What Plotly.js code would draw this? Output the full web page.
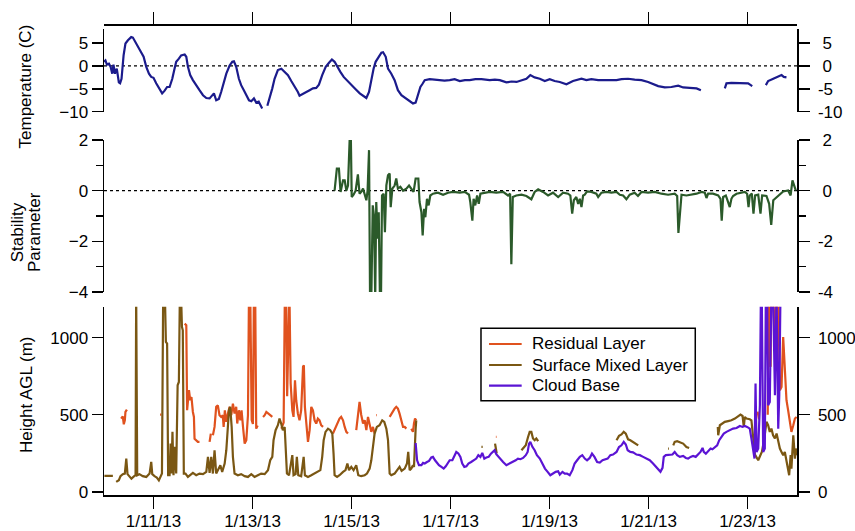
<!DOCTYPE html>
<html>
<head>
<meta charset="utf-8">
<script src="https://cdn.plot.ly/plotly-3.0.1.min.js"></script>
<style>
  html, body { margin: 0; padding: 0; background: #fff; }
  #chart { width: 855px; height: 531px; }
</style>
</head>
<body>
<div id="chart"></div>
<script>
// Time axis: hours elapsed since 2013-01-10 00:00
const startDate = Date.UTC(2013, 0, 10);

// Air temperature (C)
const tempHours = [0, 0.7, 1.4, 2.4, 3.2, 4.0, 4.6, 5.3, 6.2, 7.2, 7.8, 8.5, 9.5, 10.4, 11.6, 13.2, 14.0, 15.3, 16.4, 18.0,
  19.2, 20.5, 21.8, 22.9, 24.0, 25.3, 26.9, 28.2, 29.4, 30.6, 31.8, 33.1, 34.2, 35.0, 36.3, 37.4, 39.1, 39.9, 40.7, 41.8,
  43.1, 44.7, 46.3, 48.0, 49.6, 51.2, 52.5, 53.3, 54.4, 55.7, 56.8, 58.0, 59.3, 60.9, 62.2, 63.0, 64.1, 65.4, 66.5, 67.8,
  69.0, 70.3, 71.4, 72.7, 73.8, 75.0, 75.9, 76.7, 78.0, 79.2, 80.3, 81.6, 82.7, 84.3, 86.0, 87.6, 89.2, 90.8, 92.4, 94.0,
  94.8, 96.5, 98.1, 99.7, 101.3, 102.9, 104.2, 105.8, 107.5, 109.1, 110.5, 111.8, 113.0, 114.6, 116.2, 118.3, 119.9, 122.0,
  124.0, 125.9, 127.2, 128.5, 129.6, 130.7, 131.7, 132.8, 134.5, 135.3, 136.6, 137.7, 139.3, 140.9, 142.5, 144.2, 146.3,
  148.2, 149.8, 151.1, 152.2, 153.4, 154.3, 155.5, 157.9, 160.2, 162.7, 165.1, 167.6, 170.0, 172.5, 175.0, 177.3, 180.1,
  183.0, 187.0, 189.5, 191.9, 195.1, 197.6, 200.0, 203.2, 204.8, 206.7, 208.8, 211.3, 213.7, 216.1, 218.5, 221.0, 224.2,
  227.4, 231.5, 233.9, 236.3, 239.6, 243.6, 246.0, 248.5, 250.9, 254.1, 257.3, 260.6, 263.8, 266.2, 268.7, 271.9, 275.1,
  278.4, 280.8, 284.0, 287.3, 289.4, 295.0, 301.0, 301.8, 304.2, 308.3, 312.3, 314.3, 317.0, 320.9, 322.0, 324.5, 326.9,
  328.5, 329.6, 330.9];
const tempC = [0.9, 1.2, 0.3, 0.5, -0.2, -1.7, 0.3, -1.7, -0.6, -3.6, -3.8, -2.8, 2.3, 4.9, 5.6, 6.3, 6.2, 5.2, 4.1, 3.0,
  2.0, -0.2, -1.7, -2.4, -2.6, -3.8, -4.9, -6.0, -5.4, -4.6, -4.6, -2.8, -0.6, 0.9, 1.6, 2.3, 2.5, 2.0, -0.2, -2.0,
  -3.1, -4.3, -5.3, -6.4, -7.0, -7.1, -6.5, -6.0, -7.5, -7.2, -5.7, -3.5, -1.7, 0.1, 0.9, 1.0, -0.2, -2.8, -4.2, -5.3,
  -6.5, -7.5, -7.7, -7.1, -8.0, -7.8, -8.6, -9.3, null, -8.7, -7.1, -4.9, -2.8, -0.9, -0.6, -1.2, -2.0, -3.3, -4.4, -5.7,
  -6.5, -6.0, -5.7, -5.3, -4.9, -4.8, -4.1, -2.0, -0.2, 0.7, 1.4, 0.9, -0.2, -1.3, -2.4, -3.3, -4.2, -5.1,
  -6.0, -6.7, -7.0, -5.7, -2.8, -0.6, 0.9, 1.6, 2.9, 3.0, 2.0, -0.6, -1.7, -3.1, -5.3, -6.4, -7.1,
  -7.8, -8.2, -8.0, -6.5, -4.6, -4.0, -3.1, -2.9, -3.0, -3.1, -3.2, -3.1, -2.9, -3.3, -3.1, -3.1, -2.9,
  -2.9, -3.1, -3.0, -3.1, -3.6, -3.4, -3.5, -3.1, -2.8, -2.0, -2.5, -2.8, -3.3, -2.9, -3.3, -3.5, -4.0,
  -3.3, -2.8, -3.1, -2.9, -3.1, -3.1, -3.0, -3.1, -2.9, -2.8, -3.0, -3.1, -3.5, -4.0, -4.4, -4.7, -4.6,
  -4.3, -4.7, -4.8, -4.9, -5.3, null, -4.9, -3.8, -3.7, -3.8, -3.8, -4.4, null, -4.2, -3.3, -2.8, -2.4,
  -2.0, -2.4, -2.5];

// Stability parameter
const stabHours = [111.8, 112.9, 113.9, 114.7, 115.9, 116.7, 117.5, 118.3, 119.1, 119.7, 120.1, 121.0, 122.0, 123.1, 123.9,
  124.7, 125.6, 126.4, 127.2, 127.8, 128.5, 129.0, 129.6, 130.3, 130.9, 131.5, 132.0, 132.7, 133.2, 133.8, 134.3, 134.8,
  135.6, 136.2, 136.9, 137.7, 138.5, 139.0, 139.8, 140.9, 141.7, 142.5, 143.7, 145.0, 146.6, 147.9, 149.0, 150.1, 151.1,
  152.4, 153.0, 153.9, 154.5, 155.2, 155.8, 156.6, 157.4, 158.2, 159.5, 161.9, 164.4, 166.8, 169.2, 172.5, 174.9, 177.0,
  177.6, 178.6, 179.2, 180.0, 180.9, 181.7, 182.5, 184.6, 187.0, 190.2, 193.5, 195.9, 196.9, 197.5, 198.2, 199.9, 202.4,
  204.8, 207.2, 208.8, 210.5, 212.9, 215.3, 217.7, 220.2, 222.6, 225.0, 226.1, 227.0, 227.8, 229.0, 229.9, 230.7, 231.5,
  232.3, 233.1, 234.2, 236.3, 238.7, 239.6, 241.2, 243.6, 246.0, 248.5, 250.1, 251.7, 253.3, 254.9, 257.3, 258.9, 260.6,
  263.8, 267.0, 270.3, 273.5, 276.7, 277.9, 278.5, 279.2, 280.0, 282.4, 284.8, 287.3, 289.7, 291.3, 292.1, 292.9, 295.3,
  297.8, 298.9, 299.5, 300.2, 301.5, 302.6, 303.4, 304.2, 305.0, 306.7, 308.3, 310.7, 311.8, 312.5, 313.1, 314.1, 314.9,
  315.7, 317.2, 318.3, 319.1, 321.2, 322.5, 323.5, 324.5, 326.1, 327.7, 329.3, 331.7, 332.9, 333.8, 334.5, 335.4];
const stabValues = [0, 0.87, 0.87, -0.05, 0.41, 0.41, 0, 0.2, 2.0, 2.0, -0.25, -0.16, 0, 0.64, -0.12,
  -0.05, 0.08, -0.12, -0.38, 0, 1.6, -4.3, -4.3, -0.58, -0.98, -4.3, -0.45, -1.9, -0.85, -4.3, -4.3, -0.19,
  -0.12, -1.64, 0.21, 0.61, 0.68, -0.65, 0.08, 0.2, 0.48, 0.08, 0.15, 0, 0.08, 0.2, 0.08, -0.05, 0.48,
  0.48, -0.45, -0.85, -1.77, -0.72, -1.05, -0.32, -0.58, -0.19, -0.12, -0.08, -0.16, -0.08, -0.05, -0.08, -0.05, -0.16,
  -0.45, -1.18, -0.32, -0.58, -0.19, -0.52, -0.12, -0.08, -0.05, -0.08, -0.05, -0.19, -0.12, -2.9, -0.25, -0.19, -0.16,
  -0.21, -0.34, -0.05, 0.05, -0.05, -0.19, -0.08, -0.25, -0.08, -0.12, -0.19, -0.91, -0.38, -0.25, -0.52, -0.32, -0.65,
  -0.19, -0.16, -0.03, -0.05, -0.12, -0.25, -0.08, -0.05, -0.08, -0.05, -0.16, -0.19, -0.34, -0.16, -0.08, -0.21, -0.05,
  -0.08, -0.05, -0.12, -0.16, -0.12, -0.21, -1.67, -0.85, -0.16, -0.19, -0.16, -0.12, -0.05, -0.08, -0.29, -0.12, -0.12,
  -0.19, -0.32, -1.18, -0.25, -0.19, -0.45, -0.65, -0.32, -0.21, -0.12, -0.08, -0.05, -0.12, -0.65, -0.19, -0.12, -0.91,
  -0.19, -0.16, -0.91, -0.19, -0.21, -0.52, -1.35, -0.38, -0.25, -0.16, -0.03, 0.01, -0.19, 0.41, 0.21, 0.01];

// Residual layer height AGL (m)
const rlHours = [8.3, 9.1, 9.6, 10.1, 10.4, 11.1, 12.0, 27.2, 27.8, 30.0,
  39.1, 39.9, 40.3, 41.2, 41.8, 42.4, 43.1, 43.6, 43.9, 44.7, 45.5, 46.3, 48.0, 51.2, 51.8, 52.3,
  52.8, 53.6, 54.4, 55.2, 56.0, 56.8, 57.6, 58.0, 58.6, 59.3, 60.1, 60.9, 61.7, 62.5, 63.3, 64.1, 64.6, 65.4, 66.1,
  66.7, 67.4, 68.2, 69.0, 69.8, 70.3, 70.9, 71.6, 72.2, 72.7, 73.3, 73.8, 74.5, 76.0,
  77.1, 77.9, 78.7, 79.5, 80.6, 81.6, 83.0,
  86.0, 87.1, 87.7, 88.3, 88.8, 89.3, 89.9, 90.5, 91.3, 91.9, 92.6, 93.2, 94.0, 94.8, 95.6, 96.5, 96.9, 97.4, 98.1,
  98.9, 99.7, 100.5, 101.3, 102.1, 102.9, 103.7, 104.5, 105.3, 106.2, 108.0,
  111.0, 111.8, 112.6, 113.4, 114.2, 115.0, 115.9, 116.7, 117.5, 118.3, 120.0,
  122.3, 123.1, 123.9, 124.7, 125.6, 126.4, 127.2, 128.0, 128.8, 129.6, 130.4, 131.2, 131.6, 132.0, 132.3, 135.0,
  138.5, 139.3, 140.1, 140.9, 141.7, 142.5, 143.3, 144.1, 145.0, 145.8, 146.6, 147.8,
  149.0, 149.8, 150.3, 150.8, 151.4, 160.0, 190.0, 190.3, 200.0, 316.9, 317.6, 319.0,
  321.8, 322.5, 323.2, 323.6, 324.5, 325.3, 326.1, 326.9, 327.7, 328.5, 329.3, 330.1, 330.9, 331.7, 332.5, 333.3,
  334.2, 335.0, 335.8];
const rlHeights = [475, 490, 438, 464, 518, 533, null, 501, 501, null,
  1090, 1080, 529, 659, 594, 615, 518, 486, 345, 335, 324, 324, null, 324, 378, null,
  367, 421, 551, 561, 497, 486, 497, 421, 529, 454, 508, 551, 497, 572, 508, 551, 443, 529, 464,
  529, 421, 313, 335, 497, 1300, 1300, 465, 440, 1300, 1300, 410, 430, null,
  486, 497, 518, 507, 497, 486, null,
  410, 450, 1300, 1300, 620, 1300, 1300, 702, 529, 486, 723, 594, 507, 464, 529, 810, 820, 551, 421,
  324, 400, 551, 529, 464, 443, 475, 464, 432, 421, null,
  378, 400, 421, 454, 475, 486, 464, 421, 389, 378, null,
  400, 475, 583, 500, 443, 464, 400, 486, 443, 389, 421, 378, null, 497, 497, null,
  486, 507, 518, 540, 551, 540, 507, 464, 421, 421, 410, null,
  410, 389, 443, 475, 464, null, 356, 356, null, 520, 470, null,
  500, 1300, 810, 1300, 1300, 918, 1300, 1300, 659, 680, 1004, 745, 594, 529, 464, 389,
  432, 475, 486];

// Surface mixed layer height AGL (m)
const smlHours = [0.2, 4.3, 5.0, 5.9, 7.2, 8.0, 9.1, 10.1, 10.8, 11.4, 12.4, 13.3, 14.5, 15.3, 15.6, 16.1, 17.2, 18.8,
  20.5, 22.1, 22.9, 23.4, 24.5, 25.6, 26.6, 27.4, 28.1, 28.7, 29.5, 30.0, 30.6, 31.1, 31.8, 32.3, 32.7, 33.2, 33.7,
  34.4, 35.0, 35.7, 36.3, 36.8, 37.3, 37.8, 38.2, 38.7, 39.5, 40.7, 43.1, 44.7, 46.3, 48.0, 49.6, 50.4, 51.2, 52.0,
  52.8, 53.6, 54.4, 55.2, 56.4, 57.3, 58.5, 59.3, 60.1, 60.6, 61.2, 61.9, 62.5, 63.3, 64.9, 66.5, 68.2, 69.8, 71.4,
  73.0, 74.6, 76.2, 77.9, 79.5, 80.6, 81.6, 82.2, 83.2, 84.3, 85.1, 85.9, 86.7, 87.6, 88.0, 88.7, 89.7, 91.3, 91.9,
  92.9, 93.5, 94.2, 95.6, 96.8, 97.4, 98.9, 100.5, 102.1, 103.7, 104.9, 105.8, 106.5, 107.4, 108.6, 109.7, 110.7,
  111.3, 111.8, 113.0, 114.2, 115.9, 117.1, 118.0, 118.8, 119.9, 121.0, 122.3, 123.3, 124.7, 126.4, 127.5, 128.8,
  129.6, 130.4, 131.2, 132.3, 133.6, 134.9, 135.9, 136.9, 137.7, 138.5, 139.3, 140.9, 142.1, 143.3, 144.3, 145.8,
  146.9, 147.5, 148.2, 149.0, 149.8, 150.3, 151.1, 151.4, 151.7,
  183.0, 183.6, 184.0, 189.6, 190.4, 191.0,
  202.4, 203.5, 204.5, 205.6, 206.4, 207.2, 208.0, 208.8, 209.6, 210.5, 211.0,
  248.5, 249.7, 250.9, 252.0, 253.0, 254.1, 255.2, 256.5, 257.8, 259.0, 260.0,
  273.5, 273.9, 274.5, 276.0, 276.7, 277.9, 279.2, 280.8, 282.4, 283.7, 285.0,
  297.6, 297.8, 298.6, 299.9, 301.0, 302.6, 304.2, 305.9, 307.5, 308.6, 309.6, 310.2, 310.7, 311.5, 313.1, 313.9,
  315.6, 316.7, 317.2, 319.0, 320.2, 321.2, 322.0, 322.8, 323.6, 324.4, 325.3, 326.1, 326.9, 327.7, 328.5, 329.3,
  330.1, 330.9, 331.7, 332.2, 332.9, 333.3, 334.2, 335.0, 335.4, 336.0];
const smlHeights = [104, 104, null, 65, 76, 102, 115, 119, 216, 115, 97, 86, 100, 108, 1300, 108, 115, 102,
  97, 119, 195, 115, 102, 93, 75, 97, 119, 1300, 1300, 972, 961, 108, 108, 313, 119, 389, 108,
  292, 119, 691, 712, 1300, 1300, 1069, 1047, 119, 119, 97, 123, 108, 119, 115, 130, 227, 123, 227,
  119, 270, 119, 141, 173, 130, 184, 270, 421, 529, 551, 421, 227, 119, 108, 115, 102, 97, 115,
  97, 108, 119, 115, 141, 205, 227, 335, 400, 432, 475, 443, 400, 421, 270, 119, 108, 238, 108,
  115, 227, 108, 102, 227, 108, 97, 108, 119, 130, 141, 227, 335, 389, 410, 400, 378,
  248, 108, 97, 108, 130, 141, 184, 141, 162, 141, 173, 108, 102, 108, 119, 151,
  205, 313, 378, 421, 432, 464, 454, 410, 335, 119, 108, 119, 141, 162, 136, 151,
  184, 259, 141, 151, 173, 162, 410, 464, null,
  292, 292, null, 313, 250, null,
  270, 291, 302, 356, 389, 389, 346, 335, 346, 329, null,
  335, 363, 372, 389, 378, 341, 335, 324, 313, 302, null,
  281, 281, null, 302, 324, 329, 324, 313, 291, 285, null,
  421, 367, 432, 443, 454, 459, 464, 475, 492, 501, 492, 421, 486, 475, 471, 464,
  242, 216, 205, 260, 350, 454, 432, 389, 410, 367, 346, 378, 324, 281, 259, 238,
  259, 194, 151, 108, 238, 151, 367, 216, 281, 238];

// Cloud base height AGL (m)
const cbHours = [151.1, 151.8, 152.7, 153.9, 154.7, 155.5, 156.6, 157.6, 158.7, 159.5, 160.5, 161.5, 162.4, 163.6, 164.7,
  165.7, 166.6, 167.6, 168.9, 170.0, 170.8, 171.8, 172.8, 173.7, 174.7, 175.7, 176.7, 178.0, 179.2, 180.5, 181.5, 182.5,
  183.4, 184.4, 185.4, 186.5, 187.6, 188.6, 189.4, 190.2, 191.0, 191.9, 193.5, 195.1, 196.7, 198.3, 199.6, 200.7, 201.9,
  203.2, 204.5, 205.4, 206.1, 206.7, 207.7, 208.8, 209.9, 211.3, 212.6, 213.8, 215.1, 216.4, 217.7, 219.0, 220.2, 221.0,
  222.3, 223.4, 224.5, 225.8, 227.1, 228.2, 229.4, 230.7, 231.9, 233.1, 234.2, 235.5, 236.6, 237.8, 239.1, 240.4, 241.7,
  242.9, 244.2, 245.5, 246.8, 248.5, 249.7, 250.9, 252.0, 253.0, 253.9, 255.2, 256.5, 258.2, 259.8, 261.4, 263.0, 264.6,
  266.2, 267.5, 268.7, 269.8, 270.8, 271.4, 272.4, 274.0, 275.6, 276.7, 277.9, 279.2, 280.8, 282.1, 283.2, 284.4, 285.6,
  286.9, 288.1, 289.2, 290.2, 290.8, 291.8, 292.9, 294.1, 295.0, 296.2, 297.3, 298.3, 299.4, 300.5, 301.8, 303.4, 305.0,
  306.7, 308.3, 309.6, 310.7, 311.8, 313.1, 313.9, 314.7, 315.4, 315.9, 316.4, 317.2, 318.0, 318.5, 318.9, 319.6, 320.4,
  320.9, 321.5, 322.0, 322.8, 323.6, 324.4, 325.3, 326.1, 326.9, 327.4, 328.0];
const cbHeights = [317, 205, 173, 173, 188, 184, 194, 201, 223, 227, 205, 188, 173, 162, 151,
  166, 188, 205, 205, 238, 259, 249, 227, 184, 162, 166, 184, 194, 205, 216, 238, 227,
  253, 216, 223, 227, 248, 259, 270, 244, 231, 216, 194, 173, 184, 194, 205, 216, 212,
  220, 238, 259, 313, 324, 292, 270, 238, 216, 184, 151, 130, 108, 119, 130, 134, 112,
  130, 119, 119, 108, 141, 184, 205, 227, 238, 216, 205, 220, 248, 227, 194, 190, 205,
  212, 216, 238, 242, 259, 291, 302, 324, 307, 270, 259, 256, 242, 238, 227, 216, 205,
  184, 162, 141, 130, 156, 227, 238, 238, 242, 259, 238, 227, 233, 220, 216, 227, 233,
  227, 242, 259, 285, 259, 248, 264, 281, 276, 291, 302, 335, 356, 378, 389, 399, 410,
  414, 427, 421, 427, 421, 410, 346, 281, 216, 702, 259, 281, 561, 1300, 1300, 259, 281,
  1300, 1300, 561, 583, 1300, 1300, 626, 1300, 410, 626, 1300];

// Tick values and labels (right-hand labels keep a sign slot for positive numbers)
const tempTicks = [-10, -5, 0, 5];
const stabTicks = [-4, -2, 0, 2];
const heightTicks = [0, 500, 1000];
const signSlot = v => (v >= 0 ? '\u00a0' : '') + String(v);

// Legend entries for the height panel
const layerNames = ['Residual Layer', 'Surface Mixed Layer', 'Cloud Base'];
const layerColors = ['#e0521e', '#7a5713', '#5b14d4'];

const toDate = h => new Date(startDate + h * 3600000).toISOString().slice(0, 19).replace('T', ' ');
const xRange = [toDate(0), toDate(336)];

const baseFont = { family: '"Liberation Sans", Arial, Helvetica, sans-serif', size: 17, color: '#000' };
const axisStyle = {
  showline: true, linecolor: '#000', linewidth: 1.5,
  ticks: 'outside', ticklen: 11, tickwidth: 1.5, tickcolor: '#000',
  showgrid: false, zeroline: false, tickfont: baseFont, fixedrange: true
};

const lineTrace = (hours, vals, yaxis, color, name) => ({
  type: 'scatter', mode: 'lines', x: hours.map(toDate), y: vals,
  xaxis: 'x', yaxis: yaxis, name: name, showlegend: false,
  line: { color: color, width: 2.2 }, connectgaps: false, hoverinfo: 'skip'
});

const traces = [
  lineTrace(tempHours, tempC, 'y', '#1b1b8c', 'Temperature'),
  lineTrace(stabHours, stabValues, 'y2', '#2b5a2a', 'Stability Parameter'),
  lineTrace(rlHours, rlHeights, 'y3', layerColors[0], layerNames[0]),
  lineTrace(smlHours, smlHeights, 'y3', layerColors[1], layerNames[1]),
  lineTrace(cbHours, cbHeights, 'y3', layerColors[2], layerNames[2]),
  // empty traces that register the mirrored axes
  { type: 'scatter', x: [], y: [], xaxis: 'x2', yaxis: 'y', showlegend: false, hoverinfo: 'skip' },
  { type: 'scatter', x: [], y: [], xaxis: 'x', yaxis: 'y4', showlegend: false, hoverinfo: 'skip' },
  { type: 'scatter', x: [], y: [], xaxis: 'x', yaxis: 'y5', showlegend: false, hoverinfo: 'skip' },
  { type: 'scatter', x: [], y: [], xaxis: 'x', yaxis: 'y6', showlegend: false, hoverinfo: 'skip' }
];

const tempDomain = [0.8138, 0.9887];
const stabDomain = [0.431, 0.7537];
const heightDomain = [0, 0.3998];

const titleAnno = (text, x, y) => ({
  text: text, xref: 'paper', yref: 'paper', x: x, y: y, showarrow: false,
  textangle: -90, xanchor: 'center', yanchor: 'middle', font: baseFont
});

// Boxed legend inside the height panel
const legendBox = { x0: 0.544, x1: 0.8532, y0: 0.2002, y1: 0.3539 };
const legendRows = [0.3206, 0.2760, 0.2321];
const legendShapes = [
  { type: 'rect', xref: 'paper', yref: 'paper', x0: legendBox.x0, x1: legendBox.x1, y0: legendBox.y0, y1: legendBox.y1,
    line: { color: '#000', width: 1.5 }, fillcolor: '#fff', layer: 'above' }
].concat(layerNames.map((n, i) => ({
  type: 'line', xref: 'paper', yref: 'paper', x0: 0.5556, x1: 0.6027, y0: legendRows[i], y1: legendRows[i],
  line: { color: layerColors[i], width: 2.2 }, layer: 'above'
})));
const legendTexts = layerNames.map((n, i) => ({
  text: n, xref: 'paper', yref: 'paper', x: 0.6147, y: legendRows[i], showarrow: false,
  xanchor: 'left', yanchor: 'middle', font: baseFont
}));

const layout = {
  width: 855, height: 531,
  margin: { l: 104, r: 58, t: 24, b: 36, pad: 0 },
  paper_bgcolor: '#fff', plot_bgcolor: 'rgba(0,0,0,0)',
  font: baseFont,
  showlegend: false,
  xaxis: Object.assign({}, axisStyle, {
    type: 'date', range: xRange, anchor: 'y3', domain: [0, 1],
    tickmode: 'linear', tick0: '2013-01-11', dtick: 2 * 86400000,
    tickformat: '%-m/%-d/%y', ticklen: 12, ticklabelstandoff: -2
  }),
  xaxis2: Object.assign({}, axisStyle, {
    type: 'date', range: xRange, overlaying: 'x', side: 'top', anchor: 'free', position: 1,
    tickmode: 'linear', tick0: '2013-01-11', dtick: 2 * 86400000,
    showticklabels: false, ticklen: 12
  }),
  yaxis: Object.assign({}, axisStyle, {
    domain: tempDomain, range: [-10, 8], tickmode: 'array', tickvals: tempTicks, anchor: 'x'
  }),
  yaxis2: Object.assign({}, axisStyle, {
    domain: stabDomain, range: [-4, 2], tickmode: 'array', tickvals: stabTicks, anchor: 'x',
    minor: { ticks: 'outside', ticklen: 7, tickwidth: 1.5, tickcolor: '#000', tickmode: 'linear', tick0: 0, dtick: 1 }
  }),
  yaxis3: Object.assign({}, axisStyle, {
    domain: heightDomain, range: [-20, 1200], tickmode: 'array', tickvals: heightTicks, anchor: 'x'
  }),
  yaxis4: Object.assign({}, axisStyle, {
    overlaying: 'y', side: 'right', anchor: 'x', range: [-10, 8], tickmode: 'array',
    tickvals: tempTicks, ticktext: tempTicks.map(signSlot), ticklabelstandoff: 5
  }),
  yaxis5: Object.assign({}, axisStyle, {
    overlaying: 'y2', side: 'right', anchor: 'x', range: [-4, 2], tickmode: 'array',
    tickvals: stabTicks, ticktext: stabTicks.map(signSlot), ticklabelstandoff: 5,
    minor: { ticks: 'outside', ticklen: 7, tickwidth: 1.5, tickcolor: '#000', tickmode: 'linear', tick0: 0, dtick: 1 }
  }),
  yaxis6: Object.assign({}, axisStyle, {
    overlaying: 'y3', side: 'right', anchor: 'x', range: [-20, 1200], tickmode: 'array',
    tickvals: heightTicks, ticklabelstandoff: 5
  }),
  shapes: [
    { type: 'line', xref: 'paper', yref: 'y', x0: 0, x1: 1, y0: 0, y1: 0, layer: 'below',
      line: { color: '#000', width: 1.3, dash: 'dot' } },
    { type: 'line', xref: 'paper', yref: 'y2', x0: 0, x1: 1, y0: 0, y1: 0, layer: 'below',
      line: { color: '#000', width: 1.3, dash: 'dot' } }
  ].concat(legendShapes),
  annotations: [
    titleAnno('Temperature (C)', -0.1126, 0.8673),
    titleAnno('Stability', -0.1237, 0.5584),
    titleAnno('Parameter', -0.0996, 0.5584),
    titleAnno('Height AGL (m)', -0.1126, 0.2144)
  ].concat(legendTexts)
};

Plotly.newPlot('chart', traces, layout, { staticPlot: true, displayModeBar: false });
</script>
</body>
</html>
